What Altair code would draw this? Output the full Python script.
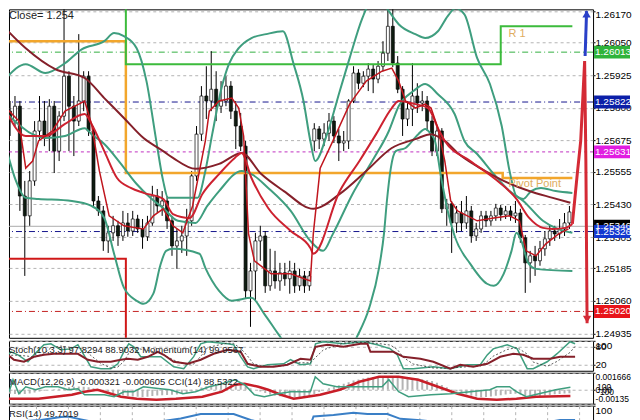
import altair as alt
import pandas as pd

FONT = "Liberation Sans"
TEAL = "#3f9e7f"
CRIMSON = "#cd2230"
MAROON = "#85202a"
FAST = "#c0161e"

# ---------------- candles (bar index 0..114) ----------------
opens = [1.25787, 1.25749, 1.25806, 1.25462, 1.25386, 1.25520, 1.25711, 1.25749, 1.25692, 1.25806,
         1.25634, 1.25768, 1.25921, 1.25806, 1.25749, 1.25826, 1.25921, 1.25711, 1.25443, 1.25405,
         1.25290, 1.25321, 1.25348, 1.25309, 1.25359, 1.25328, 1.25374, 1.25336, 1.25306, 1.25359,
         1.25462, 1.25424, 1.25443, 1.25367, 1.25271, 1.25290, 1.25309, 1.25367, 1.25539, 1.25699,
         1.25845, 1.25826, 1.25871, 1.25806, 1.25826, 1.25883, 1.25787, 1.25730, 1.25653, 1.25099,
         1.25175, 1.25290, 1.25309, 1.25118, 1.25175, 1.25137, 1.25168, 1.25145, 1.25175, 1.25118,
         1.25156, 1.25118, 1.25673, 1.25719, 1.25680, 1.25703, 1.25749, 1.25692, 1.25665, 1.25673,
         1.25826, 1.25933, 1.25894, 1.25921, 1.25948, 1.25910, 1.25959, 1.26009, 1.26112, 1.25971,
         1.25871, 1.25757, 1.25795, 1.25845, 1.25818, 1.25826, 1.25749, 1.25634, 1.25711, 1.25413,
         1.25432, 1.25359, 1.25397, 1.25359, 1.25405, 1.25309, 1.25336, 1.25386, 1.25367, 1.25386,
         1.25416, 1.25390, 1.25405, 1.25386, 1.25397, 1.25302, 1.25206, 1.25233, 1.25214, 1.25260,
         1.25298, 1.25328, 1.25317, 1.25336, 1.25359]
highs = [1.25826, 1.25845, 1.25826, 1.25520, 1.25558, 1.25749, 1.25845, 1.25826, 1.25833, 1.25826,
         1.25787, 1.26227, 1.25940, 1.25845, 1.26082, 1.25940, 1.25940, 1.25730, 1.25462, 1.25424,
         1.25348, 1.25386, 1.25367, 1.25405, 1.25397, 1.25405, 1.25390, 1.25374, 1.25386, 1.25501,
         1.25489, 1.25481, 1.25462, 1.25386, 1.25336, 1.25348, 1.25413, 1.25558, 1.25730, 1.25883,
         1.25959, 1.26017, 1.25940, 1.25902, 1.25921, 1.25902, 1.25826, 1.25780, 1.25673, 1.25206,
         1.25321, 1.25348, 1.25328, 1.25260, 1.25252, 1.25206, 1.25206, 1.25214, 1.25206, 1.25183,
         1.25175, 1.25175, 1.25741, 1.25730, 1.25741, 1.25780, 1.25768, 1.25719, 1.25711, 1.25833,
         1.25959, 1.25948, 1.25940, 1.25971, 1.25967, 1.25979, 1.26055, 1.26189, 1.26200, 1.25998,
         1.25883, 1.25826, 1.25971, 1.25894, 1.25864, 1.25845, 1.25768, 1.25730, 1.25722, 1.25451,
         1.25443, 1.25424, 1.25443, 1.25462, 1.25424, 1.25359, 1.25405, 1.25405, 1.25405, 1.25432,
         1.25428, 1.25424, 1.25424, 1.25443, 1.25413, 1.25313, 1.25252, 1.25271, 1.25290, 1.25328,
         1.25348, 1.25348, 1.25374, 1.25397, 1.25424]
lows = [1.25692, 1.25730, 1.25405, 1.25156, 1.25348, 1.25501, 1.25673, 1.25653, 1.25634, 1.25550,
        1.25596, 1.25749, 1.25634, 1.25615, 1.25730, 1.25787, 1.25692, 1.25424, 1.25386, 1.25252,
        1.25244, 1.25290, 1.25271, 1.25290, 1.25306, 1.25309, 1.25321, 1.25260, 1.25290, 1.25348,
        1.25397, 1.25386, 1.25336, 1.25233, 1.25183, 1.25244, 1.25233, 1.25348, 1.25520, 1.25673,
        1.25757, 1.25787, 1.25749, 1.25780, 1.25806, 1.25757, 1.25642, 1.25634, 1.25068, 1.24961,
        1.25061, 1.25214, 1.25091, 1.25099, 1.25107, 1.25099, 1.25118, 1.25088, 1.25091, 1.25099,
        1.25091, 1.25099, 1.25634, 1.25642, 1.25653, 1.25673, 1.25665, 1.25596, 1.25634, 1.25642,
        1.25818, 1.25871, 1.25879, 1.25864, 1.25856, 1.25894, 1.25940, 1.25979, 1.25956, 1.25856,
        1.25692, 1.25730, 1.25730, 1.25780, 1.25787, 1.25711, 1.25615, 1.25615, 1.25397, 1.25348,
        1.25244, 1.25321, 1.25328, 1.25336, 1.25283, 1.25290, 1.25321, 1.25344, 1.25348, 1.25367,
        1.25367, 1.25374, 1.25367, 1.25359, 1.25283, 1.25091, 1.25130, 1.25156, 1.25195, 1.25233,
        1.25271, 1.25290, 1.25298, 1.25309, 1.25336]
closes = [1.25749, 1.25806, 1.25462, 1.25386, 1.25520, 1.25711, 1.25749, 1.25692, 1.25806, 1.25634,
          1.25768, 1.25921, 1.25806, 1.25749, 1.25826, 1.25921, 1.25711, 1.25443, 1.25405, 1.25290,
          1.25321, 1.25348, 1.25309, 1.25359, 1.25328, 1.25374, 1.25336, 1.25306, 1.25359, 1.25462,
          1.25424, 1.25443, 1.25367, 1.25271, 1.25290, 1.25309, 1.25367, 1.25539, 1.25699, 1.25845,
          1.25826, 1.25871, 1.25806, 1.25826, 1.25883, 1.25787, 1.25730, 1.25653, 1.25099, 1.25175,
          1.25290, 1.25309, 1.25118, 1.25175, 1.25137, 1.25168, 1.25145, 1.25175, 1.25118, 1.25156,
          1.25118, 1.25156, 1.25719, 1.25680, 1.25703, 1.25749, 1.25692, 1.25665, 1.25673, 1.25826,
          1.25933, 1.25894, 1.25921, 1.25948, 1.25910, 1.25959, 1.26009, 1.26112, 1.25971, 1.25871,
          1.25757, 1.25795, 1.25845, 1.25818, 1.25826, 1.25749, 1.25634, 1.25711, 1.25413, 1.25432,
          1.25359, 1.25397, 1.25359, 1.25405, 1.25309, 1.25336, 1.25386, 1.25367, 1.25386, 1.25416,
          1.25390, 1.25405, 1.25386, 1.25397, 1.25302, 1.25206, 1.25233, 1.25214, 1.25260, 1.25298,
          1.25328, 1.25317, 1.25336, 1.25359, 1.25401]

# ---------------- overlay lines (bar position, price) ----------------
slow_i = [-0.8, 3.2, 9.2, 15.2, 19.2, 23.2, 27.2, 31.2, 33.2, 37.8, 42.6, 47.2, 51.2, 55.8, 61.8, 67.2,
          72.6, 77.8, 82.6, 85.8, 88.6, 91.2, 95.8, 100.6, 105.8, 110.6, 114.2]
slow_p = [1.26101, 1.26028, 1.25948, 1.25914, 1.25837, 1.25761, 1.25684, 1.25634, 1.25608, 1.25566,
          1.25585, 1.25627, 1.25546, 1.25481, 1.25413, 1.25470, 1.25558, 1.25646, 1.25680, 1.25699,
          1.25673, 1.25627, 1.25569, 1.25520, 1.25481, 1.25455, 1.25436]
mid_i = [-0.8, 3.2, 7.2, 11.2, 15.2, 16.6, 19.2, 21.8, 24.6, 27.2, 31.2, 33.2, 36.6, 39.2, 42.6, 45.8,
         47.2, 49.2, 52.6, 57.2, 61.2, 61.8, 67.2, 71.2, 74.6, 77.8, 79.2, 82.6, 85.2, 87.2, 88.6, 93.8,
         98.6, 103.2, 105.8, 108.6, 110.6, 113.2, 114.6]
mid_p = [1.25787, 1.25692, 1.25692, 1.25738, 1.25776, 1.25738, 1.25634, 1.25531, 1.25493, 1.25474,
         1.25451, 1.25393, 1.25378, 1.25470, 1.25546, 1.25608, 1.25627, 1.25531, 1.25416, 1.25328,
         1.25263, 1.25241, 1.25481, 1.25596, 1.25699, 1.25799, 1.25826, 1.25814, 1.25799, 1.25722,
         1.25673, 1.25596, 1.25531, 1.25451, 1.25378, 1.25340, 1.25336, 1.25340, 1.25355]
fast_i = [-0.8, 1.8, 3.2, 4.6, 5.8, 8.6, 11.2, 13.2, 15.2, 16.6, 18.2, 20.2, 23.2, 27.2, 29.2, 31.2,
          33.2, 35.2, 37.2, 39.8, 40.6, 42.6, 45.2, 46.6, 47.6, 48.6, 49.8, 53.2, 57.2, 61.2, 61.8,
          63.2, 65.8, 69.2, 72.6, 75.8, 77.8, 79.2, 80.6, 82.6, 84.6, 85.8, 87.2, 88.6, 89.8, 91.2,
          95.2, 98.6, 101.8, 103.8, 105.2, 107.2, 109.2, 111.8, 113.8]
fast_p = [1.25799, 1.25749, 1.25569, 1.25596, 1.25673, 1.25711, 1.25787, 1.25806, 1.25826, 1.25738,
          1.25558, 1.25386, 1.25348, 1.25336, 1.25386, 1.25413, 1.25348, 1.25321, 1.25424, 1.25673,
          1.25787, 1.25826, 1.25837, 1.25799, 1.25692, 1.25317, 1.25214, 1.25164, 1.25164, 1.25137,
          1.25317, 1.25569, 1.25673, 1.25814, 1.25902, 1.25940, 1.25952, 1.25902, 1.25826, 1.25799,
          1.25814, 1.25799, 1.25722, 1.25596, 1.25443, 1.25405, 1.25367, 1.25378, 1.25386, 1.25367,
          1.25252, 1.25233, 1.25279, 1.25317, 1.25336]
bb_up_i = [-0.8, 3.2, 7.2, 11.2, 14.6, 19.2, 21.2, 23.2, 25.8, 27.8, 29.8, 31.2, 32.2, 38.2, 39.8,
           41.2, 43.2, 44.6, 46.6, 49.2, 52.2, 55.6, 57.8, 59.8, 61.2, 62.2, 64.6, 67.2, 69.2, 71.8,
           73.2, 75.2, 77.2, 79.2, 82.6, 84.6, 87.2, 89.2, 90.8, 92.6, 95.2, 97.8, 100.2, 101.8,
           103.2, 104.6, 106.2, 108.2, 111.2, 114.6]
bb_up_p = [1.25914, 1.25967, 1.25933, 1.25971, 1.26024, 1.26055, 1.26086, 1.26074, 1.26028, 1.25902,
           1.25673, 1.25520, 1.25455, 1.25455, 1.25558, 1.25699, 1.25883, 1.25967, 1.26028, 1.26067,
           1.26082, 1.26093, 1.25967, 1.25826, 1.25673, 1.25596, 1.25699, 1.25864, 1.25990, 1.26143,
           1.26200, 1.26219, 1.26170, 1.26120, 1.26082, 1.26067, 1.26093, 1.26151, 1.26181, 1.26158,
           1.25990, 1.25891, 1.25730, 1.25558, 1.25462, 1.25451, 1.25481, 1.25493, 1.25481, 1.25474]
bb_mid_i = [-0.8, 4.6, 7.2, 11.2, 15.2, 16.6, 19.2, 22.6, 25.8, 28.6, 31.2, 34.2, 37.8, 40.2, 42.6,
            47.2, 49.2, 52.6, 57.2, 61.2, 63.8, 65.8, 69.8, 73.8, 77.2, 79.2, 82.2, 84.6, 87.2, 90.6,
            92.6, 95.2, 98.6, 101.8, 104.6, 108.6, 114.6]
bb_mid_p = [1.25780, 1.25699, 1.25684, 1.25692, 1.25722, 1.25699, 1.25661, 1.25585, 1.25508, 1.25455,
            1.25416, 1.25367, 1.25359, 1.25424, 1.25481, 1.25558, 1.25546, 1.25493, 1.25405, 1.25290,
            1.25252, 1.25317, 1.25470, 1.25596, 1.25711, 1.25806, 1.25864, 1.25891, 1.25852, 1.25776,
            1.25673, 1.25623, 1.25546, 1.25481, 1.25443, 1.25367, 1.25321]
bb_lo_i = [-0.8, 1.2, 3.2, 5.8, 12.6, 16.6, 19.2, 21.2, 23.2, 25.8, 27.2, 29.2, 30.6, 31.8, 33.2,
           38.6, 39.8, 42.6, 45.2, 49.2, 51.8, 54.6, 57.2, 63.2, 68.2, 70.6, 73.2, 75.2, 76.2, 76.8,
           77.6, 78.6, 80.6, 83.2, 84.6, 85.8, 86.6, 87.8, 89.2, 90.6, 93.8, 97.2, 98.6, 100.6, 102.2,
           103.2, 104.2, 105.6, 107.2, 114.6]
bb_lo_p = [1.25646, 1.25520, 1.25455, 1.25451, 1.25443, 1.25424, 1.25378, 1.25241, 1.25111, 1.25061,
           1.25049, 1.25088, 1.25195, 1.25252, 1.25260, 1.25241, 1.25187, 1.25099, 1.25061, 1.25072,
           1.25011, 1.24935, 1.24870, 1.24812, 1.24831, 1.24919, 1.25034, 1.25187, 1.25317, 1.25443,
           1.25569, 1.25634, 1.25646, 1.25699, 1.25719, 1.25699, 1.25673, 1.25539, 1.25405, 1.25309,
           1.25202, 1.25126, 1.25118, 1.25164, 1.25252, 1.25321, 1.25290, 1.25206, 1.25183, 1.25175]

# pivot levels (step lines)
pivot_i = [-0.8, 23.6, 100.4, 114.6]
pivot_p = [1.26055, 1.25550, 1.25531, 1.25531]
r1_i = [-0.8, 23.6, 100.0, 114.6]
r1_p = [1.26400, 1.25967, 1.26112, 1.26112]
s1_i = [-0.8, 23.6, 114.6]
s1_p = [1.25222, 1.24700, 1.24700]

# forecast arrows
red_i = [114.6, 115.6, 116.3, 117.1, 117.35, 117.6]
red_p = [1.25355, 1.25547, 1.25673, 1.25979, 1.25600, 1.24975]
blue_i = [117.2, 117.5]
blue_p = [1.25998, 1.26170]

# horizontal levels + right-hand tags
level_p = [1.26013, 1.25822, 1.25631, 1.25346, 1.25326, 1.25020]
level_c = ["#33b040", "#16168e", "#c030c0", "#a8a8a8", "#16168e", "#c42020"]
level_d = [[6, 3, 1, 3], [6, 3, 1, 3], [3, 3], [1, 0], [6, 3, 1, 3], [6, 3, 1, 3]]
tag_c = ["#2fb33a", "#0b1fa8", "#e11de1", "#000000", "#1438d0", "#e8141a"]

price_ticks = [1.26170, 1.26050, 1.25925, 1.25800, 1.25675, 1.25555, 1.25430, 1.25305, 1.25185,
               1.25060, 1.24935]

# ---------------- sub-window indicators ----------------
stoch_i = [-0.2, 1.2, 2.6, 4.6, 5.8, 7.8, 9.2, 11.2, 13.2, 14.6, 15.8, 17.2, 19.2, 21.2, 22.6, 23.8,
           24.8, 25.8, 27.2, 31.2, 33.8, 35.8, 37.8, 39.2, 40.6, 44.6, 45.8, 47.2, 48.6, 49.8, 52.6,
           55.8, 57.2, 59.2, 61.2, 62.2, 63.8, 67.8, 71.8, 74.6, 77.2, 78.6, 79.8, 81.8, 85.8, 89.2,
           92.6, 95.2, 96.6, 97.8, 100.6, 102.6, 104.6, 105.8, 108.6, 110.6, 113.2, 114.2]
stoch_v = [40, 63, 53, 30, 53, 87, 90, 70, 73, 87, 53, 13, 7, 7, 23, 63, 90, 80, 47, 47, 13, 7, 47, 90,
           97, 90, 87, 47, 13, 7, 20, 23, 37, 20, 23, 90, 97, 90, 97, 87, 73, 53, 7, 7, 13, 7, 20, 20,
           53, 73, 87, 73, 7, 7, 30, 57, 97, 90]
mom_i = [-0.2, 1.8, 3.8, 5.8, 7.8, 9.8, 12.6, 14.6, 16.6, 18.6, 21.2, 23.2, 24.6, 26.6, 28.6, 30.6,
         31.8, 33.8, 36.6, 39.2, 41.8, 44.6, 47.2, 48.6, 51.2, 53.8, 56.6, 59.2, 61.2, 62.2, 64.6,
         67.8, 71.2, 72.6, 73.2, 77.8, 79.8, 83.2, 85.8, 89.2, 91.2, 93.8, 96.6, 99.2, 101.8, 103.8,
         105.8, 109.2, 111.2, 114.2]
mom_v = [100.16, 99.84, 99.76, 99.96, 100.04, 100.08, 100.08, 100.08, 99.84, 99.76, 99.76, 99.84,
         99.88, 99.84, 99.96, 100.16, 100.04, 99.76, 99.68, 99.84, 100.08, 100.24, 100.16, 99.68,
         99.56, 99.56, 99.64, 99.88, 99.84, 100.36, 100.44, 100.36, 100.48, 100.48, 100.16, 100.16,
         99.96, 99.88, 99.76, 99.48, 99.64, 99.56, 99.68, 99.96, 100.08, 100.04, 99.88, 99.88,
         99.96, 99.96]

macd_hist = [-0.00038, -0.00040, -0.00042, -0.00040, -0.00035,
             -0.00025, -0.00015, -0.00008, 0.00000, 0.00006, 0.00010,
             0.00020, 0.00026, 0.00030, 0.00032, 0.00030, 0.00026,
             0.00015, 0.00005, -0.00008, -0.00018,
             -0.00030, -0.00042, -0.00052, -0.00060, -0.00066, -0.00068, -0.00070, -0.00068,
             -0.00060, -0.00056, -0.00052, -0.00050, -0.00048, -0.00046, -0.00040, -0.00032,
             -0.00015, 0.00005, 0.00022, 0.00035,
             0.00045, 0.00052, 0.00058, 0.00062, 0.00062, 0.00060, 0.00055,
             0.00035, 0.00015, 0.00000, -0.00015, -0.00030,
             -0.00045, -0.00055, -0.00062, -0.00068, -0.00070, -0.00072, -0.00072, -0.00070, -0.00068,
             -0.00040, -0.00020, 0.00000, 0.00015, 0.00028,
             0.00045, 0.00060, 0.00075, 0.00090,
             0.00102, 0.00112, 0.00120, 0.00126, 0.00130, 0.00134, 0.00136, 0.00134, 0.00130, 0.00126,
             0.00120, 0.00115, 0.00110, 0.00104, 0.00096, 0.00086,
             0.00070, 0.00048, 0.00025, 0.00005,
             -0.00015, -0.00032, -0.00046, -0.00058, -0.00066, -0.00072,
             -0.00070, -0.00064, -0.00058, -0.00052, -0.00046, -0.00040, -0.00038,
             -0.00045, -0.00058, -0.00066, -0.00068, -0.00064,
             -0.00056, -0.00050, -0.00044, -0.00040, -0.00036, -0.00032]
sig_i = [-0.8, 5.8, 12.6, 15.2, 17.8, 19.2, 22.6, 25.8, 29.8, 33.8, 39.2, 43.2, 45.8, 47.8, 50.6,
         52.6, 55.2, 57.8, 59.2, 63.2, 67.2, 71.2, 75.2, 79.2, 83.2, 87.2, 91.2, 95.2, 99.2, 103.2,
         107.2, 114.2]
sig_v = [-0.00087, -0.00087, -0.00048, -0.00018, 0.00001, -0.00018, -0.00067, -0.00087, -0.00096,
         -0.00087, -0.00067, -0.00018, 0.00050, 0.00059, 0.00030, 0.00001, -0.00048, -0.00087,
         -0.00077, -0.00048, 0.00001, 0.00079, 0.00127, 0.00127, 0.00098, 0.00030, -0.00038,
         -0.00087, -0.00096, -0.00087, -0.00067, -0.00061]
cci_i = [-0.2, 0.6, 1.8, 3.2, 5.2, 7.2, 9.8, 11.8, 13.8, 15.2, 17.2, 19.2, 21.2, 23.2, 25.2, 27.2,
         30.6, 32.6, 35.2, 37.8, 40.6, 43.2, 45.8, 47.8, 49.8, 51.8, 54.6, 57.2, 59.2, 61.2, 62.2,
         63.8, 66.6, 72.6, 75.8, 77.2, 79.2, 81.2, 85.8, 89.8, 93.8, 97.8, 99.2, 101.8, 103.2, 105.2,
         107.8, 111.2, 114.2]
cci_v = [-84, 372, -160, 106, -8, 106, 106, -8, 30, -198, -198, -198, -274, -84, -84, 106, 30, -8,
         -160, -84, 106, 220, 372, 182, -198, -274, -160, -84, -84, -84, 486, 220, 106, 106, 106, 372,
         -84, -274, -198, -160, -84, -8, 106, 106, -84, -274, -160, -8, 89]
rsi_i = [-0.8, 7.2, 11.2, 12.6, 15.2, 19.2, 27.2, 35.2, 39.2, 45.8, 49.2, 53.2, 61.2, 61.8, 65.8,
         69.8, 72.6, 76.6, 79.2, 82.6, 87.2, 91.2, 99.2, 107.2, 111.2, 114.2]
rsi_v = [40, 50, 60, 62, 52, 38, 35, 55, 71, 71, 50, 33, 33, 62, 67, 75, 71, 71, 54, 50, 42, 33, 33,
         38, 50, 49.7]

# ---------------- scales / axes ----------------
W = 585
X = alt.Scale(domain=[0.8, 117.8], nice=False, zero=False)
YM = alt.Scale(domain=[1.24919, 1.26177], nice=False, zero=False)
GRID_X = [round(6.2 + 6.4 * k, 2) for k in range(18)]
GRIDC = "#b4b4b4"

xaxis = alt.Axis(values=GRID_X, grid=True, gridDash=[3, 3], gridColor=GRIDC, labels=False,
                 ticks=False, domain=False, title=None)


def raxis(values, fmt=None, expr=None, flush=False, size=10, top_test=None):
    kw = dict(orient="right", values=values, grid=True, gridDash=[3, 3], gridColor=GRIDC,
              tickColor="black", tickSize=2, labelPadding=0, labelColor="black", labelFont=FONT,
              labelFontSize=size, domain=False, title=None, labelOverlap=False, labelBound=False,
              labelFlush=flush, minExtent=10)
    if fmt:
        kw["format"] = fmt
    if expr:
        kw["labelExpr"] = expr
    if top_test:
        kw["labelBaseline"] = {"condition": {"test": top_test, "value": "top"}, "value": "middle"}
        kw["labelOffset"] = {"condition": {"test": top_test, "value": -2}, "value": 0}
    return alt.Axis(**kw)


def xy_line(ix, vals, yscale, color, width, interp="monotone", dash=None, xax=None, yax=None):
    d = pd.DataFrame({"i": ix, "v": vals, "o": list(range(len(ix)))})
    mk = dict(color=color, strokeWidth=width, clip=True, interpolate=interp)
    if dash:
        mk["strokeDash"] = dash
    return alt.Chart(d).mark_line(**mk).encode(
        x=alt.X("i:Q", scale=X, axis=xax),
        y=alt.Y("v:Q", scale=yscale, axis=yax),
        order="o:Q",
    )


def label(text, x, y, size=11, color="#222222", clip=False):
    return alt.Chart(pd.DataFrame({"t": [text]})).mark_text(
        align="left", baseline="middle", font=FONT, fontSize=size, color=color, clip=clip
    ).encode(x=alt.value(x), y=alt.value(y), text="t:N")


# ---------------- main window ----------------
cdf = pd.DataFrame({"i": list(range(len(closes))), "open": opens, "high": highs,
                    "low": lows, "close": closes})

axis_layer = alt.Chart(pd.DataFrame({"v": price_ticks})).mark_rule(opacity=0).encode(
    y=alt.Y("v:Q", scale=YM, axis=raxis(price_ticks, fmt=".5f", top_test="datum.value > 1.2616")))

layers = [axis_layer]
for p, c, d in zip(level_p, level_c, level_d):
    layers.append(alt.Chart(pd.DataFrame({"v": [p]})).mark_rule(
        color=c, strokeWidth=1, strokeDash=d).encode(y=alt.Y("v:Q", scale=YM, axis=None)))

wicks = alt.Chart(cdf).mark_rule(color="black", strokeWidth=1, clip=True).encode(
    x=alt.X("i:Q", scale=X, axis=xaxis),
    y=alt.Y("low:Q", scale=YM, axis=None),
    y2="high:Q",
)
bodies = alt.Chart(cdf).mark_bar(width=3, stroke="black", strokeWidth=0.7, clip=True).encode(
    x=alt.X("i:Q", scale=X, axis=None),
    y=alt.Y("open:Q", scale=YM, axis=None),
    y2="close:Q",
    fill=alt.condition("datum.close >= datum.open", alt.value("white"), alt.value("#0e1c10")),
)
layers += [wicks, bodies]

layers += [
    xy_line(pivot_i, pivot_p, YM, "#f2a62c", 2.5, interp="step-after"),
    xy_line(r1_i, r1_p, YM, "#3cbb3c", 2, interp="step-after"),
    xy_line(s1_i, s1_p, YM, "#d01818", 2, interp="step-after"),
    xy_line(bb_up_i, bb_up_p, YM, TEAL, 2),
    xy_line(bb_mid_i, bb_mid_p, YM, TEAL, 2),
    xy_line(bb_lo_i, bb_lo_p, YM, TEAL, 2),
    xy_line(slow_i, slow_p, YM, MAROON, 2),
    xy_line(mid_i, mid_p, YM, CRIMSON, 2),
    xy_line(fast_i, fast_p, YM, FAST, 1.5, interp="linear"),
    xy_line(red_i, red_p, YM, "#d42a35", 3, interp="linear"),
    xy_line(blue_i, blue_p, YM, "#2a40c8", 3, interp="linear"),
]

heads = pd.DataFrame({"i": [117.6, 117.5], "v": [1.24990, 1.26160],
                      "s": ["triangle-down", "triangle-up"], "c": ["#d42a35", "#2a40c8"]})
layers.append(alt.Chart(heads).mark_point(filled=True, opacity=1, size=70, clip=True).encode(
    x=alt.X("i:Q", scale=X, axis=None), y=alt.Y("v:Q", scale=YM, axis=None),
    shape=alt.Shape("s:N", scale=None), color=alt.Color("c:N", scale=None)))

piv_txt = pd.DataFrame({"i": [101.6, 101.6], "v": [1.26082, 1.25508], "t": ["R 1", "Pivot Point"]})
layers.append(alt.Chart(piv_txt).mark_text(align="left", baseline="middle", font=FONT,
                                           fontSize=11, color="#e0ad60").encode(
    x=alt.X("i:Q", scale=X, axis=None), y=alt.Y("v:Q", scale=YM, axis=None), text="t:N"))

tags = pd.DataFrame({"v": level_p, "c": tag_c, "t": [f"{p:.5f}" for p in level_p]})
box = "M-1,-0.36L1,-0.36L1,0.36L-1,0.36Z"
layers.append(alt.Chart(tags).mark_point(shape=box, size=1296, filled=True, opacity=1,
                                         strokeWidth=0, clip=False).encode(
    x=alt.value(W + 19), y=alt.Y("v:Q", scale=YM, axis=None), color=alt.Color("c:N", scale=None)))
layers.append(alt.Chart(tags).mark_text(align="left", baseline="middle", font=FONT, fontSize=10,
                                        color="white", clip=False).encode(
    x=alt.value(W + 2), y=alt.Y("v:Q", scale=YM, axis=None), text="t:N"))

layers += [
    label("Low= 1.2525", 0, -5, clip=True),
    label("Current Days Range= 0.382", 68, -5, clip=True),
    label("Close= 1.254", 0, 7),
]
main = alt.layer(*layers).resolve_scale(y="independent").properties(width=W, height=329)

# ---------------- Stochastic + Momentum ----------------
SS = alt.Scale(domain=[0, 100], nice=False, zero=False)
sdf = pd.DataFrame({"i": stoch_i, "v": stoch_v})
st_main = alt.Chart(sdf).mark_line(color=TEAL, strokeWidth=1.5, clip=True).encode(
    x=alt.X("i:Q", scale=X, axis=xaxis),
    y=alt.Y("v:Q", scale=SS, axis=raxis([100, 80, 20], flush=True)),
)
st_sig = alt.Chart(sdf).transform_window(
    s="mean(v)", frame=[-2, 0], sort=[alt.SortField("i")]
).mark_line(color="#333333", strokeWidth=0.8, strokeDash=[2, 2], clip=True).encode(
    x=alt.X("i:Q", scale=X, axis=None), y=alt.Y("s:Q", scale=SS, axis=None))
mom = xy_line(mom_i, mom_v, alt.Scale(domain=[99.4, 100.6], nice=False, zero=False),
              MAROON, 2, interp="linear")
stoch = alt.layer(st_main, st_sig, mom,
                  label("Stoch(10,3,3) 97.8294 88.9032  Momentum(14) 99.9567", 0, 9, size=9.5)
                  ).resolve_scale(y="independent").properties(width=W, height=30)

# ---------------- MACD + CCI ----------------
MS = alt.Scale(domain=[-0.00135, 0.001666], nice=False, zero=False)
hdf = pd.DataFrame({"i": list(range(len(macd_hist))), "v": macd_hist})
hist = alt.Chart(hdf).mark_bar(width=2, color="#b4b4b4", clip=True).encode(
    x=alt.X("i:Q", scale=X, axis=xaxis),
    y=alt.Y("v:Q", scale=MS, axis=raxis(
        [0.001666, 0, -0.00135], flush=True, size=8.5,
        expr="datum.value > 0.001 ? '0.001666' : datum.value < -0.001 ? '-0.00135' : '0.00'")),
    y2=alt.datum(0),
)
sig = xy_line(sig_i, sig_v, MS, "#c81e28", 2.5, interp="linear")
CS = alt.Scale(domain=[-540, 638], nice=False, zero=False)
cci = xy_line(cci_i, cci_v, CS, TEAL, 1.5, interp="linear")
cci_lv = alt.Chart(pd.DataFrame({"v": [100, -100], "t": ["100", "-100"]})).mark_text(
    align="left", baseline="middle", font=FONT, fontSize=8.5, color="black", clip=False).encode(
    x=alt.value(W + 4), y=alt.Y("v:Q", scale=CS, axis=None), text="t:N")
macd = alt.layer(hist, sig, cci, cci_lv,
                 label("MACD(12,26,9) -0.000321 -0.000605  CCI(14) 88.5322", 0, 9, size=9.5)
                 ).resolve_scale(y="independent").properties(width=W, height=31)

# ---------------- RSI ----------------
RS = alt.Scale(domain=[44, 100], nice=False, zero=False)
rsi = alt.layer(
    xy_line(rsi_i, rsi_v, RS, "#3a7fc6", 2, interp="linear", xax=xaxis,
            yax=raxis([100], flush=True)),
    label("RSI(14) 49.7019", 0, 8, size=9.5),
).properties(width=W, height=16)

chart = alt.vconcat(main, stoch, macd, rsi, spacing=0).properties(
    padding=0,
    background="white",
).configure_view(stroke="black", strokeWidth=1)

chart.save("out.html", embed_options={"renderer": "svg", "actions": False})
